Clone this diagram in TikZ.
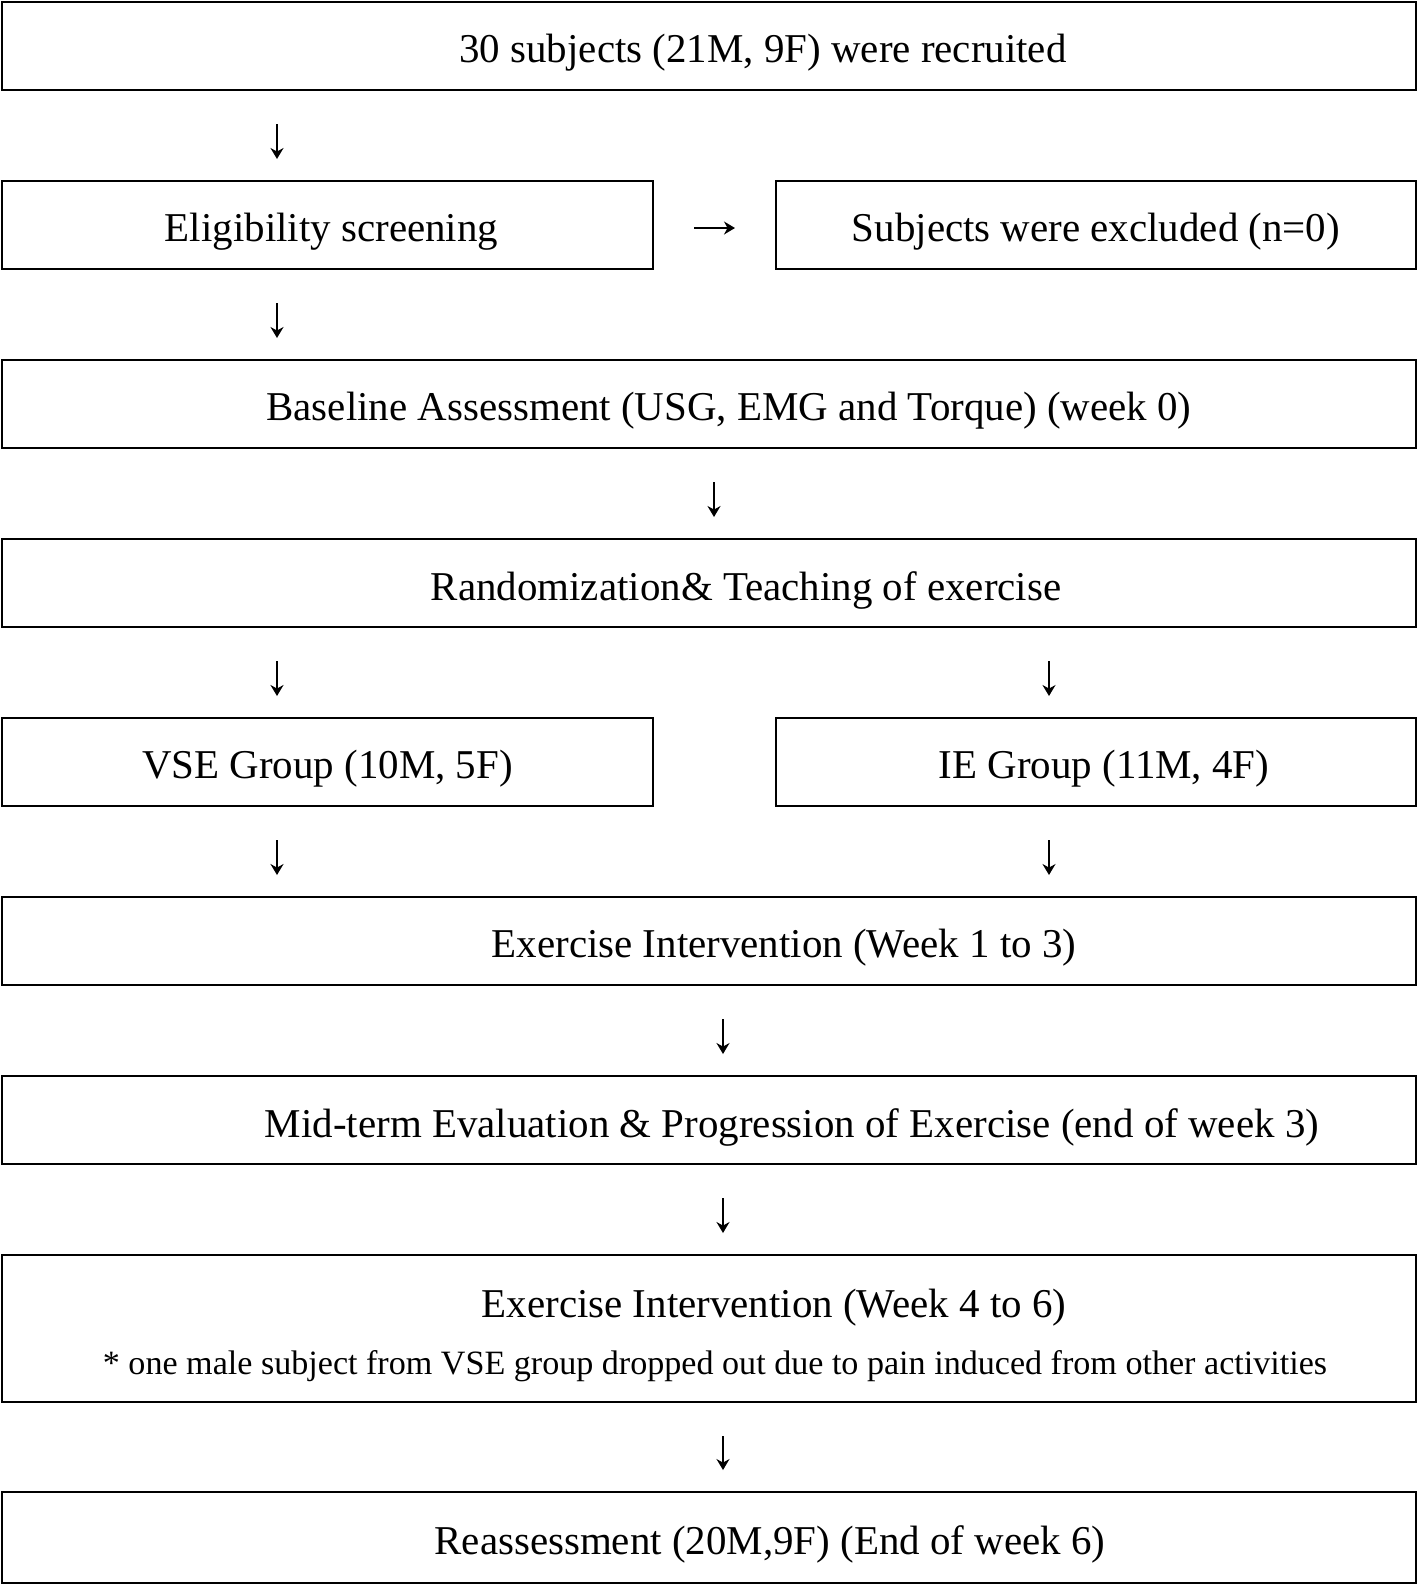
\documentclass[tikz,border=0pt]{standalone}
\usepackage{fontspec}
\setmainfont{Liberation Serif}
\usetikzlibrary{positioning,calc,arrows.meta}

\begin{document}
\begin{tikzpicture}
[node distance=0.91cm, outer sep=0pt, >={Stealth[length=1.1mm,width=1.3mm]},
wide/.style = {draw, line width=0.6pt, minimum width=14.14cm, minimum height=0.88cm, inner sep=0pt},
half/.style = {draw, line width=0.6pt, minimum width=6.51cm, minimum height=0.88cm, inner sep=0pt},
txt/.style = {font=\fontsize{11.65}{14}\selectfont, inner sep=0pt, yshift=-0.07cm},
note/.style = {font=\fontsize{9.7}{11}\selectfont, inner sep=0pt, yshift=-0.05cm},
flow/.style = {->, line width=0.45pt, shorten <=0.34cm, shorten >=0.22cm}]
\useasboundingbox (0,0) rectangle (14.18,-15.87);

\node [wide](recruit) at (7.09,-0.46){};
\node [half, below=of recruit.south west, anchor=north west](screen){};
\node [half, minimum width=6.40cm, below=of recruit.south east, anchor=north east](exclude){};
\node [wide, below=of screen.south west, anchor=north west](baseline){};
\node [wide, below=of baseline](random){};
\node [half, below=of random.south west, anchor=north west](vse){};
\node [half, minimum width=6.40cm, below=of random.south east, anchor=north east](ie){};
\node [wide, below=of vse.south west, anchor=north west](interA){};
\node [wide, below=of interA](midterm){};
\node [wide, minimum height=1.47cm, below=of midterm](interB){};
\node [wide, minimum height=0.91cm, below=0.90cm of interB](reassess){};

\node [txt] at ($(recruit)+(0.54,0)$)(recruitT){30 subjects (21M, 9F) were recruited};
\node [txt] at ($(screen)+(0.04,0)$)(screenT){Eligibility screening};
\node [txt] at (exclude)(excludeT){Subjects were excluded (n=0)};
\node [txt] at ($(baseline)+(0.20,0)$)(baselineT){Baseline Assessment (USG, EMG and Torque) (week 0)};
\node [txt] at ($(random)+(0.37,0)$)(randomT){Randomization\& Teaching of exercise};
\node [txt] at (vse)(vseT){VSE Group (10M, 5F)};
\node [txt] at ($(ie)+(0.08,0)$)(ieT){IE Group (11M, 4F)};
\node [txt] at ($(interA)+(0.75,0)$)(interAT){Exercise Intervention (Week 1 to 3)};
\node [txt] at ($(midterm)+(0.83,0)$)(midtermT){Mid-term Evaluation \& Progression of Exercise (end of week 3)};
\node [txt] at ($(interB)+(0.65,0.28)$)(interBT){Exercise Intervention (Week 4 to 6)};
\node [note] at ($(interB)+(0.06,-0.33)$)(dropT){* one male subject from VSE group dropped out due to pain induced from other activities};
\node [txt] at ($(reassess)+(0.61,0)$)(reassessT){Reassessment (20M,9F) (End of week 6)};

\coordinate (colL) at (2.77,0);
\coordinate (colR) at (10.49,0);
\coordinate (colB) at (7.14,0);
\coordinate (colM) at (7.23,0);

\draw[flow] (recruit.south -| colL) -- (screen.north -| colL);
\draw[flow, shorten <=0.41cm, shorten >=0.41cm] ([yshift=-0.03cm]screen.east) -- ([yshift=-0.03cm]exclude.west);
\draw[flow] (screen.south -| colL) -- (baseline.north -| colL);
\draw[flow] (baseline.south -| colB) -- (random.north -| colB);
\draw[flow] (random.south -| colL) -- (vse.north -| colL);
\draw[flow] (random.south -| colR) -- (ie.north -| colR);
\draw[flow] (vse.south -| colL) -- (interA.north -| colL);
\draw[flow] (ie.south -| colR) -- (interA.north -| colR);
\draw[flow] (interA.south -| colM) -- (midterm.north -| colM);
\draw[flow] (midterm.south -| colM) -- (interB.north -| colM);
\draw[flow] (interB.south -| colM) -- (reassess.north -| colM);

\end{tikzpicture}
\end{document}
